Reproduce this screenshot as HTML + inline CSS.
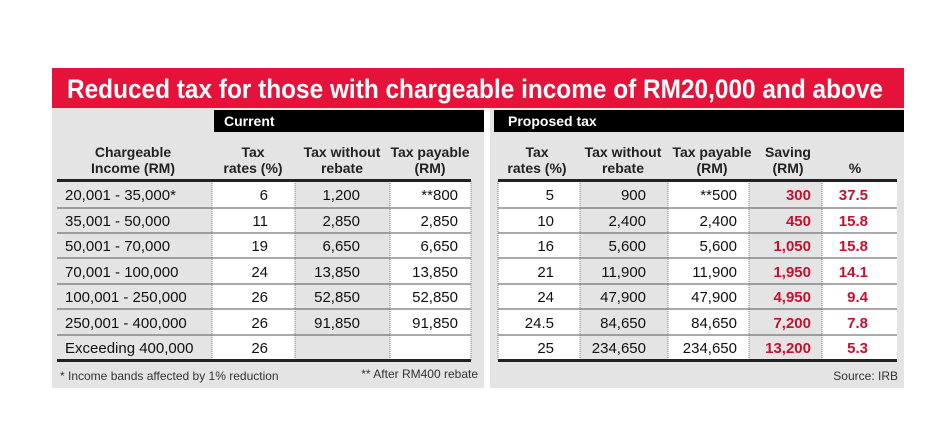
<!DOCTYPE html>
<html><head><meta charset="utf-8"><style>
html,body{margin:0;padding:0;background:#fff;}
svg{display:block;font-family:"Liberation Sans",sans-serif;}
</style></head><body>
<svg width="940" height="442" viewBox="0 0 940 442" xmlns="http://www.w3.org/2000/svg">
<rect x="0" y="0" width="940" height="442" fill="#fff"/>
<rect x="52" y="68" width="852" height="40" fill="#e5123a"/>
<text x="67" y="98" fill="#fff" font-size="27" font-weight="bold" textLength="816" lengthAdjust="spacingAndGlyphs">Reduced tax for those with chargeable income of RM20,000 and above</text>
<rect x="52" y="108" width="432" height="280" fill="#e4e4e4"/>
<rect x="490" y="108" width="414" height="280" fill="#e4e4e4"/>
<rect x="214" y="110" width="270" height="22" fill="#000"/>
<text x="224" y="126" fill="#fff" font-size="14" font-weight="bold">Current</text>
<rect x="494" y="110" width="410" height="22" fill="#000"/>
<text x="508" y="126" fill="#fff" font-size="14" font-weight="bold">Proposed tax</text>
<g font-size="14" font-weight="bold" fill="#222" text-anchor="middle">
<text x="133" y="157">Chargeable</text><text x="133" y="173">Income (RM)</text>
<text x="253" y="157">Tax</text><text x="253" y="173">rates (%)</text>
<text x="342" y="157">Tax without</text><text x="342" y="173">rebate</text>
<text x="430" y="157">Tax payable</text><text x="430" y="173">(RM)</text>
<text x="537" y="157">Tax</text><text x="537" y="173">rates (%)</text>
<text x="623" y="157">Tax without</text><text x="623" y="173">rebate</text>
<text x="712" y="157">Tax payable</text><text x="712" y="173">(RM)</text>
<text x="788" y="157">Saving</text><text x="788" y="173">(RM)</text>
<text x="855" y="173">%</text>
</g>
<!-- left cells -->
<rect x="212" y="180" width="83" height="180" fill="#fff"/>
<rect x="390" y="180" width="81" height="180" fill="#fff"/>
<!-- right cells -->
<rect x="498" y="180" width="82" height="180" fill="#fff"/>
<rect x="668" y="180" width="81" height="180" fill="#fff"/>
<rect x="822" y="180" width="75" height="180" fill="#fff"/>
<g stroke="#555" stroke-width="1">
<line x1="57" y1="208" x2="471" y2="208"/><line x1="57" y1="233" x2="471" y2="233"/>
<line x1="57" y1="258" x2="471" y2="258"/><line x1="57" y1="284" x2="471" y2="284"/>
<line x1="57" y1="309" x2="471" y2="309"/><line x1="57" y1="335" x2="471" y2="335"/>
<line x1="498" y1="208" x2="897" y2="208"/><line x1="498" y1="233" x2="897" y2="233"/>
<line x1="498" y1="258" x2="897" y2="258"/><line x1="498" y1="284" x2="897" y2="284"/>
<line x1="498" y1="309" x2="897" y2="309"/><line x1="498" y1="335" x2="897" y2="335"/>
</g>
<g stroke="#777" stroke-width="1" stroke-dasharray="1,1">
<line x1="212" y1="181" x2="212" y2="360"/><line x1="295" y1="181" x2="295" y2="360"/>
<line x1="390" y1="181" x2="390" y2="360"/><line x1="471" y1="181" x2="471" y2="360"/>
<line x1="498" y1="181" x2="498" y2="360"/><line x1="580" y1="181" x2="580" y2="360"/>
<line x1="668" y1="181" x2="668" y2="360"/><line x1="749" y1="181" x2="749" y2="360"/>
<line x1="822" y1="181" x2="822" y2="360"/>
</g>
<g fill="#222">
<rect x="57" y="179" width="414" height="3"/><rect x="57" y="359" width="414" height="3"/>
<rect x="498" y="179" width="399" height="3"/><rect x="498" y="359" width="399" height="3"/>
</g>
<g font-size="15" fill="#111">
<text x="65" y="200">20,001 - 35,000*</text>
<text x="65" y="226">35,001 - 50,000</text>
<text x="65" y="251">50,001 - 70,000</text>
<text x="65" y="277">70,001 - 100,000</text>
<text x="65" y="302">100,001 - 250,000</text>
<text x="65" y="328">250,001 - 400,000</text>
<text x="65" y="353">Exceeding 400,000</text>
</g>
<g font-size="15" fill="#111" text-anchor="end">
<text x="268" y="200">6</text><text x="268" y="226">11</text><text x="268" y="251">19</text><text x="268" y="277">24</text><text x="268" y="302">26</text><text x="268" y="328">26</text><text x="268" y="353">26</text>
<text x="360" y="200">1,200</text><text x="360" y="226">2,850</text><text x="360" y="251">6,650</text><text x="360" y="277">13,850</text><text x="360" y="302">52,850</text><text x="360" y="328">91,850</text>
<text x="458" y="200">**800</text><text x="458" y="226">2,850</text><text x="458" y="251">6,650</text><text x="458" y="277">13,850</text><text x="458" y="302">52,850</text><text x="458" y="328">91,850</text>
<text x="554" y="200">5</text><text x="554" y="226">10</text><text x="554" y="251">16</text><text x="554" y="277">21</text><text x="554" y="302">24</text><text x="554" y="328">24.5</text><text x="554" y="353">25</text>
<text x="646" y="200">900</text><text x="646" y="226">2,400</text><text x="646" y="251">5,600</text><text x="646" y="277">11,900</text><text x="646" y="302">47,900</text><text x="646" y="328">84,650</text><text x="646" y="353">234,650</text>
<text x="737" y="200">**500</text><text x="737" y="226">2,400</text><text x="737" y="251">5,600</text><text x="737" y="277">11,900</text><text x="737" y="302">47,900</text><text x="737" y="328">84,650</text><text x="737" y="353">234,650</text>
</g>
<g font-size="15" font-weight="bold" fill="#c8102e" text-anchor="end">
<text x="811" y="200">300</text><text x="811" y="226">450</text><text x="811" y="251">1,050</text><text x="811" y="277">1,950</text><text x="811" y="302">4,950</text><text x="811" y="328">7,200</text><text x="811" y="353">13,200</text>
<text x="868" y="200">37.5</text><text x="868" y="226">15.8</text><text x="868" y="251">15.8</text><text x="868" y="277">14.1</text><text x="868" y="302">9.4</text><text x="868" y="328">7.8</text><text x="868" y="353">5.3</text>
</g>
<g font-size="12" fill="#333">
<text x="60" y="380">* Income bands affected by 1% reduction</text>
<text x="478" y="378" text-anchor="end">** After RM400 rebate</text>
<text x="898" y="380" text-anchor="end">Source: IRB</text>
</g>
</svg>
</body></html>
